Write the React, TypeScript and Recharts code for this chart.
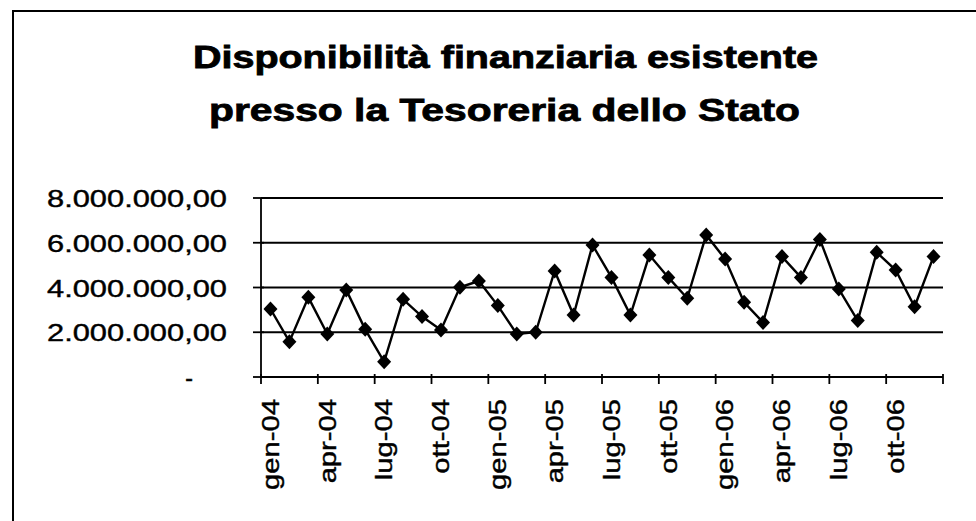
import React from 'react';
import { LineChart, Line, XAxis, YAxis, CartesianGrid } from 'recharts';

const categories = [
  'gen-04', 'feb-04', 'mar-04', 'apr-04', 'mag-04', 'giu-04', 'lug-04', 'ago-04', 'set-04', 'ott-04', 'nov-04', 'dic-04',
  'gen-05', 'feb-05', 'mar-05', 'apr-05', 'mag-05', 'giu-05', 'lug-05', 'ago-05', 'set-05', 'ott-05', 'nov-05', 'dic-05',
  'gen-06', 'feb-06', 'mar-06', 'apr-06', 'mag-06', 'giu-06', 'lug-06', 'ago-06', 'set-06', 'ott-06', 'nov-06', 'dic-06',
];

const values = [
  3040000, 1580000, 3560000, 1920000, 3890000, 2130000, 680000, 3470000, 2700000, 2100000, 4010000, 4290000,
  3190000, 1920000, 2000000, 4740000, 2770000, 5900000, 4450000, 2770000, 5450000, 4450000, 3520000, 6350000,
  5270000, 3340000, 2440000, 5380000, 4450000, 6150000, 3930000, 2520000, 5570000, 4780000, 3140000, 5380000,
];

const yTicks = [0, 2000000, 4000000, 6000000, 8000000];
const yTickLabels = ['-', '2.000.000,00', '4.000.000,00', '6.000.000,00', '8.000.000,00'];

const titleLines = ['Disponibilità finanziaria esistente', 'presso la Tesoreria dello Stato'];

const data = categories.map((c, i) => ({ month: c, value: values[i] }));

const W = 976;
const H = 521;
const PLOT_LEFT = 261;
const PLOT_RIGHT = 943;
const PLOT_TOP = 198;
const PLOT_BOTTOM = 377;
const FONT = '"Liberation Sans", Arial, sans-serif';
const STRETCH = 1.27;

const YTick = (props: any) => {
  const { y, payload } = props;
  const idx = yTicks.indexOf(payload.value);
  const label = yTickLabels[idx];
  const isZero = payload.value === 0;
  return (
    <g>
      <line x1={PLOT_LEFT - 8} x2={PLOT_LEFT + 3} y1={y} y2={y} stroke="#000" strokeWidth={1.8} />
      {isZero ? (
        <text x={193} y={y + 9} textAnchor="end" fontSize={23} fontFamily={FONT} fill="#000" stroke="#000" strokeWidth={0.5}>
          {label}
        </text>
      ) : (
        <text
          x={47}
          y={y + 9}
          textLength={180}
          lengthAdjust="spacingAndGlyphs"
          fontSize={23}
          fontFamily={FONT}
          fill="#000"
          stroke="#000"
          strokeWidth={0.4}
        >
          {label}
        </text>
      )}
    </g>
  );
};

const XTick = (props: any) => {
  const { x, payload } = props;
  const bw = (PLOT_RIGHT - PLOT_LEFT) / categories.length;
  const idx = categories.indexOf(payload.value);
  const bx = x - bw / 2;
  return (
    <g>
      <line x1={bx} x2={bx} y1={PLOT_BOTTOM - 3} y2={PLOT_BOTTOM + 7} stroke="#000" strokeWidth={1.8} />
      {idx + 3 >= categories.length && (
        <line x1={bx + 3 * bw} x2={bx + 3 * bw} y1={PLOT_BOTTOM - 3} y2={PLOT_BOTTOM + 7} stroke="#000" strokeWidth={1.8} />
      )}
      <text
        transform={`translate(${x},${PLOT_BOTTOM + 22}) rotate(-90) scale(${STRETCH},1)`}
        textAnchor="end"
        dy="0.36em"
        fontSize={23}
        fontFamily={FONT}
        fill="#000"
        stroke="#000"
        strokeWidth={0.4}
      >
        {payload.value}
      </text>
    </g>
  );
};

const Diamond = (props: any) => {
  const { cx, cy } = props;
  if (cx == null || cy == null) return null;
  return (
    <polygon
      points={`${cx},${cy - 7.5} ${cx + 7},${cy} ${cx},${cy + 7.5} ${cx - 7},${cy}`}
      fill="#000"
      stroke="none"
    />
  );
};

const titleSpans = [
  { x: 193, len: 625 },
  { x: 209, len: 591 },
];

export default function App() {
  return (
    <div style={{ position: 'absolute', left: 0, top: 0, width: W, height: H, background: '#fff', overflow: 'hidden' }}>
      <div
        style={{
          position: 'absolute',
          left: 12,
          top: 10,
          width: W + 20,
          height: H + 20,
          borderLeft: '2px solid #000',
          borderTop: '2px solid #000',
        }}
      />
      <svg width={W} height={H} style={{ position: 'absolute', left: 0, top: 0 }}>
        {titleLines.map((t, i) => (
          <text
            key={i}
            x={titleSpans[i].x}
            y={68 + i * 53}
            textLength={titleSpans[i].len}
            lengthAdjust="spacingAndGlyphs"
            fontSize={31}
            fontWeight="bold"
            fontFamily={FONT}
            fill="#000"
            stroke="#000"
            strokeWidth={0.8}
          >
            {t}
          </text>
        ))}
      </svg>
      <div style={{ position: 'absolute', left: 0, top: 0 }}>
        <LineChart
          width={W}
          height={H}
          data={data}
          margin={{ top: PLOT_TOP, right: W - PLOT_RIGHT, bottom: 0, left: 0 }}
        >
          <CartesianGrid yAxisId="l" horizontal={true} vertical={false} stroke="#000" strokeWidth={1.8} />
          <XAxis
            dataKey="month"
            scale="band"
            interval={2}
            height={H - PLOT_BOTTOM}
            tickLine={false}
            axisLine={{ stroke: '#000', strokeWidth: 1.8 }}
            tick={<XTick />}
          />
          <YAxis
            yAxisId="l"
            width={PLOT_LEFT}
            domain={[0, 8000000]}
            ticks={yTicks}
            tickLine={false}
            axisLine={{ stroke: '#000', strokeWidth: 1.8 }}
            tick={<YTick />}
          />
          <YAxis
            yAxisId="r"
            orientation="right"
            width={0}
            domain={[0, 8000000]}
            ticks={yTicks}
            tick={false}
            tickLine={false}
            axisLine={{ stroke: '#000', strokeWidth: 1.8 }}
          />
          <Line
            yAxisId="l"
            type="linear"
            dataKey="value"
            stroke="#000"
            strokeWidth={2.4}
            dot={<Diamond />}
            activeDot={false}
            isAnimationActive={false}
          />
        </LineChart>
      </div>
    </div>
  );
}
